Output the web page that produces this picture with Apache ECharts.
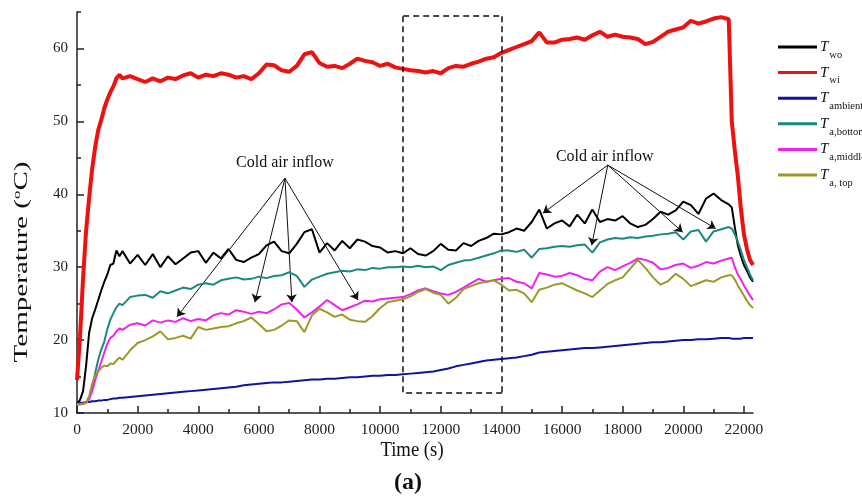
<!DOCTYPE html>
<html>
<head>
<meta charset="utf-8">
<script src="https://cdn.jsdelivr.net/npm/echarts@6/dist/echarts.min.js"></script>
<style>html,body{margin:0;padding:0;background:#fff;}#c{width:862px;height:496px;}</style>
</head>
<body>
<div id="c"></div>
<script>
// ---- data (time in s, temperature in °C) ----
const times = [0,100,200,300,400,500,600,700,800,900,1000,1100,1200,1300,1400,1500,
1750,2000,2250,2500,2750,3000,3250,3500,3750,4000,
4250,4500,4750,5000,5250,5500,5750,6000,6250,6500,
6750,7000,7250,7500,7750,8000,8250,8500,8750,9000,
9250,9500,9750,10000,10250,10500,10750,11000,11250,11500,
11750,12000,12250,12500,12750,13000,13250,13500,13750,14000,
14250,14500,14750,15000,15250,15500,15750,16000,16250,16500,
16750,17000,17250,17500,17750,18000,18250,18500,18750,19000,
19250,19500,19750,20000,20250,20500,20750,21000,21250,21500,
21600,21700,21800,21900,22000,22100,22200,22300];

const Two = [11.3,11.8,13.0,16.5,21.0,23.0,24.2,25.5,26.8,28.0,29.0,30.3,30.5,32.3,31.5,32.2,
30.5,31.7,30.3,31.8,30.0,31.5,30.4,31.2,32.0,32.2,
30.6,32.0,31.2,32.5,31.0,30.7,31.3,31.8,33.0,33.5,
32.2,31.9,33.2,34.8,35.2,32.0,33.3,32.3,33.6,32.6,
33.8,33.5,32.9,32.7,32.0,32.2,31.9,32.6,31.8,31.6,
32.2,33.2,32.4,32.3,33.3,32.9,33.6,34.0,34.6,34.5,
34.8,35.3,35.0,36.2,37.9,35.3,36.0,36.4,35.6,37.2,
36.0,37.9,36.2,36.6,36.4,37.0,36.0,35.5,35.8,36.6,
37.6,37.2,37.8,39.0,38.5,37.3,39.4,40.1,39.2,38.6,
38.2,35.5,33.0,31.5,30.3,29.5,28.6,28.0];

const Twi = [14.5,20.5,28.5,35.0,39.5,43.5,46.5,48.8,50.2,51.8,53.0,54.0,54.8,55.9,56.4,55.9,
56.2,55.8,55.4,55.9,55.5,56.0,55.8,56.3,56.6,56.0,
56.4,56.2,56.6,56.4,56.0,56.2,55.8,56.6,57.8,57.7,
57.0,56.8,57.6,59.2,59.5,58.0,57.5,57.6,57.3,57.9,
58.6,58.3,58.1,57.6,57.9,57.4,57.2,57.0,56.9,56.7,
56.9,56.6,57.3,57.6,57.5,57.9,58.2,58.6,58.8,59.4,
59.8,60.2,60.6,61.0,62.2,60.8,60.8,61.2,61.3,61.5,
61.2,61.8,62.3,61.6,61.9,61.6,61.5,61.3,60.6,60.9,
61.6,62.3,62.6,62.9,63.8,63.4,63.7,64.1,64.3,64.0,
50.0,46.0,42.5,38.0,34.5,32.5,31.0,30.3];

const Tambient = [11.3,11.4,11.4,11.5,11.5,11.6,11.6,11.7,11.7,11.8,11.8,11.9,12.0,12.0,12.1,12.1,
12.2,12.3,12.4,12.5,12.6,12.7,12.8,12.9,13.0,13.1,
13.2,13.3,13.4,13.5,13.6,13.8,13.9,14.0,14.1,14.2,
14.2,14.3,14.4,14.5,14.6,14.6,14.7,14.7,14.8,14.9,
14.9,15.0,15.1,15.1,15.2,15.2,15.3,15.4,15.5,15.6,
15.7,15.9,16.1,16.4,16.6,16.8,17.0,17.2,17.3,17.4,
17.5,17.6,17.8,18.0,18.3,18.4,18.5,18.6,18.7,18.8,
18.9,18.9,19.0,19.1,19.2,19.3,19.4,19.5,19.6,19.7,
19.7,19.8,19.9,20.0,20.0,20.1,20.1,20.2,20.3,20.3,
20.2,20.2,20.2,20.2,20.3,20.3,20.3,20.3];

const TaBottom = [11.2,11.2,11.3,11.4,12.0,13.5,15.5,17.3,18.7,19.8,21.5,22.8,23.7,24.5,25.0,24.8,
25.9,26.1,26.2,25.8,26.7,26.4,26.8,27.2,27.0,27.6,
27.8,27.6,28.2,28.4,28.6,28.3,28.4,28.7,28.5,28.8,
28.9,29.3,28.8,27.3,28.3,28.7,29.1,29.3,29.5,29.4,
29.7,29.6,29.9,29.8,30.0,30.0,30.1,30.0,30.2,30.0,
30.1,29.6,30.3,30.6,30.9,31.0,31.3,31.6,31.9,32.3,
32.3,32.1,32.4,31.3,32.5,32.6,32.8,32.9,32.8,33.0,
33.1,32.0,33.4,33.8,34.0,33.9,34.1,34.0,34.2,34.3,
34.5,34.6,34.8,33.8,34.9,35.1,33.5,34.9,35.2,35.5,
35.3,34.5,33.5,32.3,31.0,30.0,29.0,28.2];

const TaMiddle = [11.2,11.2,11.3,11.4,11.9,13.0,14.5,15.8,17.0,18.3,19.5,20.3,20.6,21.2,21.6,21.4,
22.1,22.3,22.0,22.7,22.4,22.7,22.5,23.0,22.6,22.9,
22.7,23.4,23.7,23.5,24.1,23.9,23.6,23.9,23.7,24.2,
24.9,25.1,24.2,23.1,23.8,24.6,25.5,24.8,24.1,24.5,
24.9,25.4,25.3,25.6,25.7,25.8,25.9,26.3,26.8,27.1,
26.7,26.4,26.2,26.6,27.2,27.8,28.4,28.0,28.2,28.4,
28.5,28.0,27.8,27.1,29.2,29.0,28.7,28.8,29.2,28.9,
28.4,28.2,29.4,30.0,29.6,30.1,30.6,31.2,31.0,30.6,
29.7,29.9,30.3,30.5,29.9,30.2,30.7,30.5,30.9,31.2,
31.3,30.0,29.0,28.3,27.5,26.8,26.1,25.5];

const TaTop = [11.2,11.2,11.2,11.4,12.3,14.0,15.2,15.7,16.2,16.5,16.4,16.8,16.7,17.2,17.6,17.3,
18.6,19.6,20.0,20.5,21.2,20.1,20.3,20.6,20.2,21.8,
21.4,21.6,21.8,21.9,22.3,22.6,23.1,22.2,21.2,21.4,
22.0,22.7,22.6,21.1,23.4,24.3,23.8,23.2,23.5,22.8,
22.6,22.5,23.3,24.4,25.2,25.4,25.6,26.0,26.6,27.0,
26.5,26.2,25.0,25.8,27.0,27.4,27.8,28.0,28.2,27.6,
26.8,26.9,26.4,25.2,26.9,27.2,27.6,27.8,27.3,26.8,
26.4,25.9,26.8,27.7,28.2,28.6,29.8,31.0,29.9,28.6,
27.6,28.1,29.1,28.4,27.4,27.8,28.2,28.0,28.6,28.9,
28.9,28.3,27.5,26.8,26.1,25.4,24.8,24.4];

// tick labels
const xMajor = [0,2000,4000,6000,8000,10000,12000,14000,16000,18000,20000,22000];
const xMinor = [1000,3000,5000,7000,9000,11000,13000,15000,17000,19000,21000];
const yMajor = [10,20,30,40,50,60];
const yMinor = [15,25,35,45,55,65];

// annotations (data coordinates)
const annoText = 'Cold air inflow';
const annoTextPos = [[6860, 44.3], [17410, 45.2]];
const arrowFromL = [6860, 42.2];
const arrowToL = [[3300, 23.2], [5870, 25.2], [7090, 25.2], [9270, 25.5]];
const arrowFromR = [17510, 44.0];
const arrowToR = [[15370, 37.4], [16980, 33.0], [19980, 34.8], [21070, 35.3]];
const boxX = [10760, 14025];
const boxY = [12.84, 64.42];

const names = ['Two','Twi','Tambient','Ta,bottom','Ta,middle','Ta, top'];
const subs = {'Two':'wo','Twi':'wi','Tambient':'ambient','Ta,bottom':'a,bottom','Ta,middle':'a,middle','Ta, top':'a, top'};
const colors = ['#000000','#f01010','#1212a0','#1a8a80','#ee22ee','#9a9a2a'];
const values = [Two, Twi, Tambient, TaBottom, TaMiddle, TaTop];
const widths = [2, 4, 2, 2, 2, 2];

const FONT = 'Liberation Serif';
const chart = echarts.init(document.getElementById('c'), null, {renderer:'canvas'});

const series = names.map((n, i) => ({
  name: n, type: 'line', showSymbol: false, symbol: 'none', smooth: false,
  data: times.map((t, k) => [t, values[i][k]]),
  lineStyle: {color: colors[i], width: widths[i]},
  itemStyle: {color: colors[i]},
  emphasis: {disabled: true},
  z: 2 + i
}));

const arrows = [];
arrowToL.forEach(p => arrows.push([{coord: arrowFromL}, {coord: p}]));
arrowToR.forEach(p => arrows.push([{coord: arrowFromR}, {coord: p}]));
series[0].markLine = {
  silent: true, symbol: ['none', 'arrow'], symbolSize: 8, animation: false,
  label: {show: false}, lineStyle: {color: '#111', width: 1, type: 'solid'},
  itemStyle: {color: '#111'},
  emphasis: {disabled: true},
  data: arrows
};
series[2].markLine = {
  silent: true, symbol: ['none', 'none'], animation: false,
  label: {show: false}, lineStyle: {color: '#111', width: 1.5, type: [6, 4]},
  emphasis: {disabled: true},
  data: [
    [{coord: [boxX[0], boxY[1]]}, {coord: [boxX[1], boxY[1]]}],
    [{coord: [boxX[1], boxY[1]]}, {coord: [boxX[1], boxY[0]]}],
    [{coord: [boxX[1], boxY[0]]}, {coord: [boxX[0], boxY[0]]}],
    [{coord: [boxX[0], boxY[0]]}, {coord: [boxX[0], boxY[1]]}]
  ]
};
series[2].markPoint = {
  silent: true, symbol: 'rect', symbolSize: 1, animation: false,
  itemStyle: {color: 'rgba(0,0,0,0)'},
  label: {show: true, position: 'inside', formatter: annoText, fontSize: 16, fontFamily: FONT, color: '#111'},
  data: annoTextPos.map(p => ({coord: p}))
};

const tickStyle = {color: '#222', width: 1.5};
const option = {
  animation: false,
  backgroundColor: '#ffffff',
  grid: {left: 77, right: 109, top: 12, bottom: 83},
  legend: {
    orient: 'vertical', left: 778, top: 39.5, padding: 0, itemWidth: 39, itemHeight: 3, itemGap: 4.6,
    data: names, icon: 'rect',
    formatter: n => '{t|T}{s|' + subs[n] + '}',
    textStyle: {
      padding: [0, 0, 0, -2],
      rich: {
        t: {fontSize: 15, fontStyle: 'italic', fontFamily: FONT, color: '#111'},
        s: {fontSize: 10.5, fontFamily: FONT, color: '#111', padding: [16, 0, 0, 1]}
      }
    }
  },
  xAxis: [{
    type: 'value', min: 0, max: 22300, position: 'bottom',
    axisLine: {show: true, lineStyle: tickStyle},
    axisTick: {show: true, inside: true, length: 7, customValues: xMajor, lineStyle: tickStyle},
    axisLabel: {customValues: xMajor, fontSize: 15.5, fontFamily: FONT, color: '#222', margin: 9, formatter: v => String(v)},
    splitLine: {show: false}
  }, {
    type: 'value', min: 0, max: 22300, position: 'bottom',
    axisLine: {show: false},
    axisTick: {show: true, inside: true, length: 4, customValues: xMinor, lineStyle: tickStyle},
    axisLabel: {show: false}, splitLine: {show: false}
  }],
  yAxis: [{
    type: 'value', min: 10, max: 65, position: 'left',
    axisLine: {show: true, lineStyle: tickStyle},
    axisTick: {show: true, inside: true, length: 7, customValues: yMajor, lineStyle: tickStyle},
    axisLabel: {customValues: yMajor, fontSize: 15, fontFamily: FONT, color: '#222', margin: 9, formatter: v => String(v)},
    splitLine: {show: false}
  }, {
    type: 'value', min: 10, max: 65, position: 'left',
    axisLine: {show: false},
    axisTick: {show: true, inside: true, length: 4, customValues: yMinor, lineStyle: tickStyle},
    axisLabel: {show: false}, splitLine: {show: false}
  }],
  graphic: [
    {type: 'text', x: 22, y: 262, rotation: Math.PI / 2, scaleX: 1.53, silent: true,
     style: {text: 'Temperature ({sup|o}C)', fontSize: 19, fontFamily: FONT, fill: '#111',
             align: 'center', verticalAlign: 'middle', textAlign: 'center', textVerticalAlign: 'middle',
             rich: {sup: {fontSize: 11, fontFamily: FONT, fill: '#111', padding: [0, 0, 9, 0]}}}},
    {type: 'text', x: 412, y: 450, scaleX: 0.85, silent: true,
     style: {text: 'Time (s)', fontSize: 22, fontFamily: FONT, fill: '#111',
             align: 'center', verticalAlign: 'middle', textAlign: 'center', textVerticalAlign: 'middle'}},
    {type: 'text', x: 408, y: 483, silent: true,
     style: {text: '(a)', fontSize: 24, fontWeight: 'bold', fontFamily: FONT, fill: '#111',
             align: 'center', verticalAlign: 'middle', textAlign: 'center', textVerticalAlign: 'middle'}}
  ],
  series: series
};
chart.setOption(option);
</script>
</body>
</html>
